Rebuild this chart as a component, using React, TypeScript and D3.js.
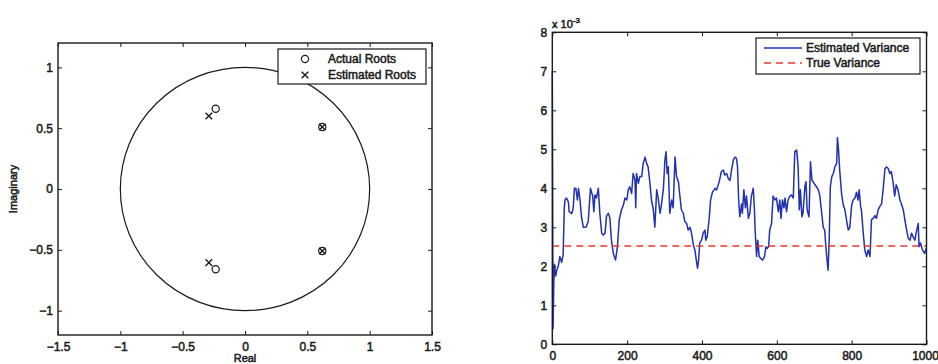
import { useEffect, useRef } from "react";
import * as d3 from "d3";

// ── left panel: roots ──────────────────────────────────
const ACTUAL_RE = [-0.235, -0.235, 0.62, 0.62];
const ACTUAL_IM = [0.66, -0.66, 0.51, -0.51];
const EST_RE = [-0.29, -0.29, 0.62, 0.62];
const EST_IM = [0.6, -0.605, 0.51, -0.51];
const ROOT_X_TICKS = [-1.5, -1, -0.5, 0, 0.5, 1, 1.5];
const ROOT_Y_TICKS = [-1, -0.5, 0, 0.5, 1];
const ROOT_LEGEND = ["Actual Roots", "Estimated Roots"];

// ── right panel: variance (x 10^-3) ───────────────────
const VAR_N = [
  0, 1, 2, 4, 6, 9, 12, 16, 20, 25, 29, 32, 34, 38, 43, 45, 52, 56, 59, 63, 67, 70, 74, 78, 83, 90, 96,
  102, 108, 111, 114, 118, 123, 127, 132, 136, 141, 145, 150, 154, 158, 163, 169, 174, 179, 185, 190, 194,
  199, 203, 207, 212, 216, 221, 223, 225, 230, 234, 239, 243, 248, 252, 256, 261, 265, 270, 274, 279, 283,
  288, 292, 297, 301, 304, 307, 310, 314, 319, 323, 328, 332, 337, 341, 345, 350, 354, 359, 363, 368, 372,
  377, 381, 386, 388, 391, 394, 399, 403, 408, 410, 414, 419, 423, 428, 435, 439, 446, 452, 457, 461, 466,
  470, 475, 479, 484, 488, 492, 495, 498, 501, 506, 508, 512, 516, 519, 524, 528, 532, 537, 540, 542, 546,
  549, 553, 557, 562, 567, 571, 574, 578, 581, 586, 590, 595, 599, 604, 608, 611, 615, 619, 622, 626, 630,
  635, 639, 644, 648, 653, 657, 660, 663, 667, 670, 675, 678, 681, 686, 690, 694, 697, 702, 706, 711, 715,
  719, 724, 728, 731, 735, 737, 740, 743, 747, 751, 755, 760, 762, 765, 768, 773, 777, 782, 786, 791, 795,
  800, 804, 809, 813, 817, 820, 824, 826, 831, 835, 840, 844, 849, 853, 858, 862, 866, 871, 875, 880, 884,
  889, 893, 898, 902, 906, 911, 915, 919, 924, 929, 933, 938, 942, 947, 951, 956, 960, 964, 969, 973, 978,
  980, 984, 989, 995, 999,
];
const VAR_V = [
  7.0, 4.0, 0.4, 1.6, 2.05, 1.75, 1.9, 2.0, 2.25, 2.1, 2.3, 3.5, 3.7, 3.75, 3.65, 3.4, 3.35, 3.5, 4.0, 4.0, 3.7,
  4.0, 3.7, 3.27, 3.0, 3.0, 3.15,
  4.0, 3.8, 3.4, 3.83, 3.75, 4.0, 3.36, 2.85, 2.8, 2.85, 3.3, 3.36, 3.23, 2.67, 2.33, 2.16, 2.5, 3.2, 3.45,
  3.57, 3.75,
  3.7, 3.96, 4.04, 3.87, 4.38, 4.2, 3.5, 4.38, 4.13, 4.3, 4.3, 4.64, 4.8, 4.64, 4.55, 4.13, 3.7, 3.45, 3.0,
  3.96, 3.75,
  3.36, 3.6, 4.0, 4.73, 4.94, 4.38, 4.55, 3.36, 3.7, 3.5, 4.8, 4.3, 4.17, 3.8, 3.45, 3.36, 3.15, 3.1, 2.93,
  3.0, 2.85,
  2.55, 2.42, 2.08, 1.95, 2.16, 2.6, 2.67, 2.85, 2.93, 2.67, 2.76, 3.2, 3.7, 3.9, 4.0, 3.96, 4.17, 4.43, 4.47,
  4.34, 4.38,
  4.26, 4.2, 4.47, 4.73, 4.8, 4.77, 4.55, 3.7, 3.27, 3.6, 3.36, 3.96, 3.5, 3.8, 3.23, 3.36, 3.8, 4.0, 3.5,
  2.93, 2.25,
  2.67, 2.25, 2.2, 2.16, 2.25, 2.5, 2.46, 2.5, 2.93, 3.1, 3.8, 3.7, 3.75, 3.4, 3.7, 3.23, 3.7, 3.5, 3.75, 3.4,
  3.7,
  3.8, 3.83, 3.75, 4.94, 4.98, 4.55, 3.45, 3.96, 3.27, 3.36, 4.04, 4.17, 3.45, 3.27, 4.68, 4.2, 4.17, 4.09,
  4.04, 3.96, 3.8,
  3.45, 3.0, 2.93, 2.5, 2.08, 1.9, 2.67, 4.04, 4.3, 4.38, 4.55, 4.64, 5.3, 4.98, 4.47, 3.87, 3.6, 3.45, 3.2,
  2.93, 3.0,
  3.57, 3.7, 3.75, 3.9, 3.7, 3.96, 3.53, 3.45, 2.85, 2.42, 2.25, 2.42, 2.25, 3.2, 3.23, 3.3, 3.23, 3.45, 3.53,
  3.6, 3.96,
  4.5, 4.55, 4.5, 4.38, 4.43, 4.13, 3.8, 4.09, 3.96, 3.7, 3.6, 3.45, 3.2, 2.93, 2.72, 2.67, 2.85, 2.76, 2.67,
  2.89, 3.1,
  2.5, 2.6, 2.42, 2.33, 2.46,
];
const TRUE_VAR = 2.52;
const VAR_X_TICKS = [0, 200, 400, 600, 800, 1000];
const VAR_Y_TICKS = [0, 1, 2, 3, 4, 5, 6, 7, 8];
const VAR_LEGEND = ["Estimated Variance", "True Variance"];

const FONT = "'Liberation Sans', Arial, Helvetica, sans-serif";
const INK = "#1a1a1a";
const BLUE = "#2231b0";
const RED = "#e53a30";
const TEXT_STROKE = 0.5;

type Sel = d3.Selection<SVGGElement, unknown, null, undefined>;

// MATLAB-style box: inward ticks on all four sides, labels on bottom/left
function drawBox(
  g: Sel,
  x: d3.ScaleLinear<number, number>,
  y: d3.ScaleLinear<number, number>,
  xTicks: number[],
  yTicks: number[],
) {
  const [x0, x1] = x.range();
  const [y1, y0] = y.range();
  const fmt = d3.format("~g");
  const styleText = (s: Sel) => {
    s.selectAll("text")
      .attr("fill", INK)
      .attr("stroke", INK)
      .attr("stroke-width", TEXT_STROKE)
      .style("font-family", FONT)
      .style("font-size", "12px");
    s.selectAll(".domain").remove();
    s.selectAll(".tick line").attr("stroke", INK).attr("stroke-width", 1);
  };

  const bottom = g.append("g").attr("transform", `translate(0,${y1})`)
    .call(d3.axisBottom(x).tickValues(xTicks).tickSizeInner(-4).tickSizeOuter(0).tickPadding(7).tickFormat(d => fmt(d as number)))
    .call(styleText);
  // keep the last label inside the page edge
  bottom.selectAll<SVGTextElement, number>("text")
    .attr("dx", d => (x(d) + 13 > 938 ? 938 - 13 - x(d) : 0));
  g.append("g").attr("transform", `translate(0,${y0})`)
    .call(d3.axisTop(x).tickValues(xTicks).tickSizeInner(-4).tickSizeOuter(0).tickFormat(() => ""))
    .call(styleText);
  g.append("g").attr("transform", `translate(${x0},0)`)
    .call(d3.axisLeft(y).tickValues(yTicks).tickSizeInner(-4).tickSizeOuter(0).tickPadding(5).tickFormat(d => fmt(d as number)))
    .call(styleText);
  g.append("g").attr("transform", `translate(${x1},0)`)
    .call(d3.axisRight(y).tickValues(yTicks).tickSizeInner(-4).tickSizeOuter(0).tickFormat(() => ""))
    .call(styleText);

  g.append("rect")
    .attr("x", x0).attr("y", y0)
    .attr("width", x1 - x0).attr("height", y1 - y0)
    .attr("fill", "none").attr("stroke", INK).attr("stroke-width", 1.4);
}

function label(g: Sel, x: number, y: number, txt: string, size = 12, rotate = 0) {
  return g.append("text")
    .attr("transform", `translate(${x},${y}) rotate(${rotate})`)
    .attr("fill", INK).attr("stroke", INK).attr("stroke-width", TEXT_STROKE)
    .style("font-family", FONT).style("font-size", `${size}px`)
    .text(txt);
}

export default function App() {
  const svgRef = useRef<SVGSVGElement>(null);

  useEffect(() => {
    if (!svgRef.current) return;
    const svg = d3.select(svgRef.current);
    svg.selectAll("*").remove();
    const root = svg.append("g") as unknown as Sel;

    // ── left: unit circle + roots ───────────────────────
    const rx = d3.scaleLinear().domain([-1.5, 1.5]).range([58, 432]);
    const ry = d3.scaleLinear().domain([-1.2, 1.2]).range([335, 43]);
    const lg = root.append("g");

    lg.append("ellipse")
      .attr("cx", rx(0)).attr("cy", ry(0))
      .attr("rx", rx(1) - rx(0)).attr("ry", ry(0) - ry(1))
      .attr("fill", "none").attr("stroke", INK).attr("stroke-width", 1.2);

    const circleMark = (g: Sel, cx: number, cy: number) =>
      g.append("circle").attr("cx", cx).attr("cy", cy).attr("r", 3.6)
        .attr("fill", "none").attr("stroke", INK).attr("stroke-width", 1.2);
    const crossMark = (g: Sel, cx: number, cy: number) => {
      const s = 3.3;
      g.append("path")
        .attr("d", `M${cx - s},${cy - s}L${cx + s},${cy + s}M${cx - s},${cy + s}L${cx + s},${cy - s}`)
        .attr("stroke", INK).attr("stroke-width", 1.4);
    };

    ACTUAL_RE.forEach((re, i) => circleMark(lg, rx(re), ry(ACTUAL_IM[i])));
    EST_RE.forEach((re, i) => crossMark(lg, rx(re), ry(EST_IM[i])));

    drawBox(lg, rx, ry, ROOT_X_TICKS, ROOT_Y_TICKS);
    label(lg, 17, ry(0), "Imaginary", 11, -90).attr("text-anchor", "middle");
    label(lg, rx(0), 362, "Real", 11).attr("text-anchor", "middle");

    // legend
    const leg = lg.append("g");
    leg.append("rect").attr("x", 278).attr("y", 49).attr("width", 148).attr("height", 35)
      .attr("fill", "white").attr("stroke", INK).attr("stroke-width", 1.2);
    circleMark(leg, 305, 59);
    crossMark(leg, 305, 75);
    ROOT_LEGEND.forEach((t, i) => label(leg, 328, 63 + i * 16, t, 12));

    // ── right: variance trace ───────────────────────────
    const vx = d3.scaleLinear().domain([0, 1000]).range([552.3, 926.5]);
    const vy = d3.scaleLinear().domain([0, 8]).range([344.3, 32.3]);
    const rg = root.append("g");

    const line = d3.line<number>().x(n => vx(n)).y((_, i) => vy(VAR_V[i]));
    rg.append("path")
      .attr("d", line(VAR_N))
      .attr("fill", "none").attr("stroke", BLUE).attr("stroke-width", 1.5)
      .attr("stroke-linejoin", "round");

    rg.append("line")
      .attr("x1", vx(0)).attr("x2", vx(1000))
      .attr("y1", vy(TRUE_VAR)).attr("y2", vy(TRUE_VAR))
      .attr("stroke", RED).attr("stroke-width", 1.7).attr("stroke-dasharray", "7,5");

    drawBox(rg, vx, vy, VAR_X_TICKS, VAR_Y_TICKS);

    const exp = label(rg, 552, 28, "x 10", 11);
    exp.append("tspan").attr("dy", -5).style("font-size", "8px").text("-3");

    const vleg = rg.append("g");
    vleg.append("rect").attr("x", 756).attr("y", 38).attr("width", 164).attr("height", 36)
      .attr("fill", "white").attr("stroke", INK).attr("stroke-width", 1.2);
    vleg.append("line").attr("x1", 764).attr("x2", 802).attr("y1", 48).attr("y2", 48)
      .attr("stroke", BLUE).attr("stroke-width", 1.7);
    vleg.append("line").attr("x1", 764).attr("x2", 802).attr("y1", 63).attr("y2", 63)
      .attr("stroke", RED).attr("stroke-width", 1.7).attr("stroke-dasharray", "7,5");
    VAR_LEGEND.forEach((t, i) => label(vleg, 806, 52 + i * 15, t, 12));
  }, []);

  return (
    <div style={{ position: "fixed", left: 0, top: 0, width: 938, height: 364, background: "white" }}>
      <svg ref={svgRef} width={938} height={364} style={{ display: "block" }} />
    </div>
  );
}
